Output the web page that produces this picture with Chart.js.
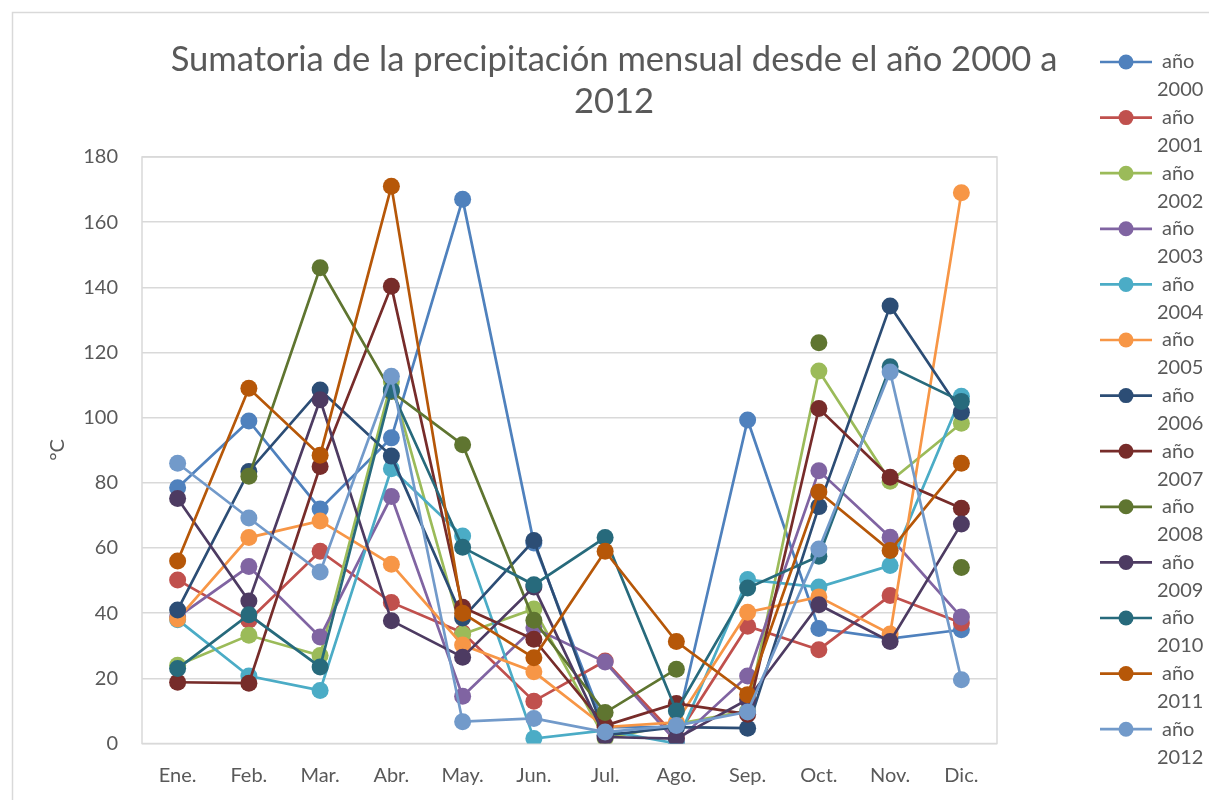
<!DOCTYPE html>
<html><head><meta charset="utf-8">
<script src="https://cdn.jsdelivr.net/npm/chart.js@4/dist/chart.umd.min.js"></script>
<style>html,body{margin:0;padding:0;background:#fff}#wrap{width:1209px;height:800px;position:relative}</style>
</head><body><div id="wrap"><canvas id="c" width="1209" height="800"></canvas></div>
<script>
const months = ['Ene.','Feb.','Mar.','Abr.','May.','Jun.','Jul.','Ago.','Sep.','Oct.','Nov.','Dic.'];
const seriesNames = ['año 2000','año 2001','año 2002','año 2003','año 2004','año 2005','año 2006','año 2007','año 2008','año 2009','año 2010','año 2011','año 2012'];
const seriesColors = ['#4F81BD','#C0504D','#9BBB59','#8064A2','#4BACC6','#F79646','#2C4D75','#772C2A','#5F7530','#4D3B62','#276A7C','#B65708','#729ACA'];
const y2000 = [78.5, 99, 72, 93.8, 167, 61.5, 5, 5, 99.3, 35.3, 32.2, 34.9];
const y2001 = [50.2, 37.8, 59, 43.3, 34, 13, 25.3, 2, 36, 28.8, 45.4, 37];
const y2002 = [24, 33.2, 27, 111, 33.5, 41.3, 1.5, 6, 10, 114.3, 80.5, 98.3];
const y2003 = [38.8, 54.3, 32.7, 75.8, 14.5, 35.5, 25, 0.5, 20.7, 83.7, 63.3, 38.8];
const y2004 = [38, 20.7, 16.3, 84.3, 63.7, 1.5, 4, 0, 50.3, 48, 54.6, 106.6];
const y2005 = [38.2, 63.2, 68.3, 55, 30.2, 22, 5, 6.5, 40.3, 45, 33.6, 169];
const y2006 = [41, 83.5, 108.5, 88.2, 38.5, 62.3, 2.5, 5, 4.7, 72.7, 134.3, 101.7];
const y2007 = [18.8, 18.5, 85, 140.3, 41.8, 32, 5.5, 12.3, 9, 102.8, 81.7, 72.2];
const y2008 = [null, 82, 146, 108, 91.7, 37.8, 9.5, 22.8, null, 123, null, 54];
const y2009 = [75.2, 43.7, 105.5, 37.7, 26.5, 48, 2, 1.5, 13.5, 42.6, 31.3, 67.4];
const y2010 = [23, 39.5, 23.5, 108.5, 60.2, 48.7, 63.2, 10, 47.7, 57.5, 115.6, 105];
const y2011 = [56, 109, 88.5, 171, 40, 26.3, 59, 31.3, 15, 77.2, 59.2, 86];
const y2012 = [86, 69.2, 52.6, 112.7, 6.7, 7.7, 3.5, 5.5, 9.7, 59.7, 114, 19.6];
const seriesValues = [y2000,y2001,y2002,y2003,y2004,y2005,y2006,y2007,y2008,y2009,y2010,y2011,y2012];
const yTicks = [0,20,40,60,80,100,120,140,160,180];
const titleLines = ['Sumatoria de la precipitación mensual desde el año 2000 a','2012'];
const yTitle = '°C';

const FONT = 'Lato, "Open Sans", sans-serif';
const TXT = '#595959';
const GRID = '#d9d9d9';

const datasets = seriesValues.map((vals, i) => ({
  label: seriesNames[i],
  data: vals,
  borderColor: seriesColors[i],
  backgroundColor: seriesColors[i],
  pointBackgroundColor: seriesColors[i],
  pointBorderColor: seriesColors[i],
  pointRadius: 8.5,
  pointBorderWidth: 0,
  borderWidth: 2.7,
  tension: 0,
  spanGaps: false,
  order: seriesValues.length - i
}));

const decor = {
  id: 'decor',
  beforeDraw(chart) {
    const ctx = chart.ctx;
    ctx.save();
    ctx.fillStyle = '#fff';
    ctx.fillRect(0, 0, chart.width, chart.height);
    ctx.strokeStyle = GRID;
    ctx.lineWidth = 1.5;
    ctx.strokeRect(12.5, 12.5, chart.width + 20, chart.height + 20);
    const a = chart.chartArea;
    ctx.strokeRect(a.left, a.top, a.right - a.left, a.bottom - a.top);
    ctx.restore();
  },
  afterDraw(chart) {
    const ctx = chart.ctx;
    ctx.save();
    ctx.fillStyle = TXT;
    ctx.textAlign = 'center';
    ctx.textBaseline = 'middle';
    ctx.font = '34.6px ' + FONT;
    ctx.fillText(titleLines[0], 614, 60);
    ctx.fillText(titleLines[1], 614, 102);
    ctx.font = '20px ' + FONT;
    ctx.translate(58, 450);
    ctx.rotate(-Math.PI / 2);
    ctx.fillText(yTitle, 0, 0);
    ctx.restore();
    ctx.save();
    ctx.font = '20px ' + FONT;
    ctx.textBaseline = 'middle';
    ctx.textAlign = 'left';
    chart.data.datasets.forEach((ds, i) => {
      const y = 62 + i * 55.6;
      ctx.strokeStyle = ds.borderColor;
      ctx.lineWidth = 2.7;
      ctx.beginPath();
      ctx.moveTo(1100, y);
      ctx.lineTo(1152, y);
      ctx.stroke();
      ctx.fillStyle = ds.borderColor;
      ctx.beginPath();
      ctx.arc(1126, y, 7.5, 0, Math.PI * 2);
      ctx.fill();
      ctx.fillStyle = TXT;
      const parts = ds.label.split(' ');
      ctx.fillText(parts[0], 1162, y);
      ctx.fillText(parts[1], 1157, y + 28);
    });
    ctx.restore();
  }
};

new Chart(document.getElementById('c'), {
  type: 'line',
  data: { labels: months, datasets },
  options: {
    responsive: false,
    animation: false,
    layout: { padding: { left: 0, right: 212, top: 157, bottom: 0 } },
    plugins: { legend: { display: false }, title: { display: false }, tooltip: { enabled: false } },
    scales: {
      x: {
        offset: true,
        grid: { display: false, drawTicks: false, offset: true },
        border: { display: false },
        ticks: { color: TXT, font: { family: FONT, size: 20 }, padding: 20, maxRotation: 0 },
        afterFit(s) { s.height = 56.5; }
      },
      y: {
        min: 0, max: 180,
        afterBuildTicks(s) { s.ticks = yTicks.map(v => ({ value: v })); },
        grid: { color: GRID, lineWidth: 1.5, drawTicks: false },
        border: { display: false },
        ticks: { color: TXT, font: { family: FONT, size: 20 }, padding: 24 },
        afterFit(s) { s.width = 142; }
      }
    }
  },
  plugins: [decor]
});
</script>
</body></html>
